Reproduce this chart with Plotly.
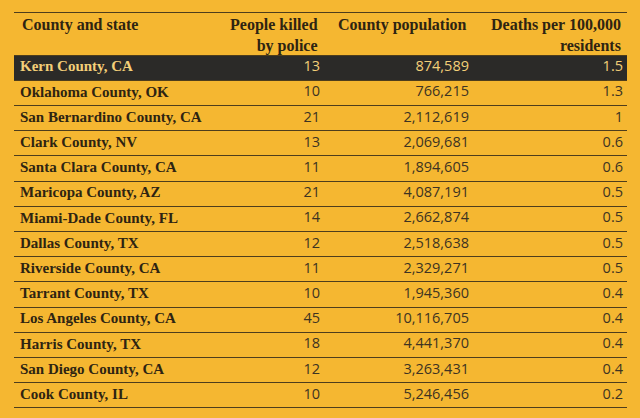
import plotly.graph_objects as go

# ── data ──────────────────────────────────────────────────────────────────────
counties = [
    "Kern County, CA", "Oklahoma County, OK", "San Bernardino County, CA",
    "Clark County, NV", "Santa Clara County, CA", "Maricopa County, AZ",
    "Miami-Dade County, FL", "Dallas County, TX", "Riverside County, CA",
    "Tarrant County, TX", "Los Angeles County, CA", "Harris County, TX",
    "San Diego County, CA", "Cook County, IL",
]
killed = [13, 10, 21, 13, 11, 21, 14, 12, 11, 10, 45, 18, 12, 10]
population = [874589, 766215, 2112619, 2069681, 1894605, 4087191, 2662874,
              2518638, 2329271, 1945360, 10116705, 4441370, 3263431, 5246456]
rate = ["1.5", "1.3", "1", "0.6", "0.6", "0.5", "0.5", "0.5", "0.5",
        "0.4", "0.4", "0.4", "0.4", "0.2"]
headers = ["County and state", "People killed<br>by police",
           "County population", "Deaths per 100,000<br>residents"]
highlight = "Kern County, CA"

# ── style / layout ────────────────────────────────────────────────────────────
# the page body keeps its default 8px margin, so the figure is drawn
# 8px smaller and everything below is measured from that offset
OFF = 8
W, H = 640 - OFF, 418 - OFF
YELLOW = "#f5b731"
DARK = "#2b2a28"
INK = "#2e2412"
NUM = "#3d3322"
CREAM = "#f4cf78"
RULE = "#4e3d1c"

# pixel geometry of the table (window pixels)
left_px, right_px = 14 - OFF, 627 - OFF
top_px, head_h, row_h = 12 - OFF, 43, 25.2
# column text anchors (x in window px): name left edge, numbers right edges
col_x = [20, 320, 469, 623]
col_anchor = ["left", "right", "right", "right"]

n = len(counties)
rows = list(range(n))
y_top = -0.5 - (top_px + head_h) / row_h          # y value at figure top
y_bot = y_top + H / row_h                         # y value at figure bottom
head_top = -0.5 - head_h / row_h

is_hi = [c == highlight for c in counties]
name_col = [CREAM if h else INK for h in is_hi]
num_col = [CREAM if h else NUM for h in is_hi]

fig = go.Figure()

# highlighted row band
for i, h in enumerate(is_hi):
    if h:
        fig.add_shape(type="rect", xref="paper", yref="y", x0=0, x1=1,
                      y0=i - 0.5, y1=i + 0.5, fillcolor=DARK,
                      line=dict(width=0), layer="below")

columns = [
    ([f"<b>{c}</b>" for c in counties], "Liberation Serif", 15, name_col),
    ([str(k) for k in killed], "Open Sans", 14.5, num_col),
    ([f"{p:,}" for p in population], "Open Sans", 14.5, num_col),
    (rate, "Open Sans", 14.5, num_col),
]
for (vals, fam, size, colors), x, anc in zip(columns, col_x, col_anchor):
    fig.add_trace(go.Scatter(
        x=[x] * n, y=rows, text=vals, mode="text",
        textposition="middle right" if anc == "left" else "middle left",
        textfont=dict(family=fam, size=size, color=colors),
        hoverinfo="skip", showlegend=False,
    ))

for text, x, anc in zip(headers, col_x, col_anchor):
    fig.add_annotation(
        x=x, y=head_top, xref="x", yref="y", text=f"<b>{text}</b>",
        xanchor=anc, yanchor="top", align=anc, showarrow=False, yshift=-2,
        font=dict(family="Liberation Serif", size=16, color=INK),
    )

rules = [head_top] + [i - 0.5 for i in range(n + 1)]
fig.update_layout(
    width=W, height=H,
    paper_bgcolor=YELLOW, plot_bgcolor=YELLOW,
    margin=dict(l=left_px, r=W - right_px, t=0, b=0),
    xaxis=dict(range=[left_px + OFF, right_px + OFF], visible=False,
               fixedrange=True),
    yaxis=dict(range=[y_bot, y_top], tickvals=rules, showticklabels=False,
               showgrid=True, gridcolor=RULE, gridwidth=1, zeroline=False,
               showline=False, ticks="", fixedrange=True),
)

# paint the page margin in the same yellow as the chart
fig.write_html("out.html",
               post_script=f"document.body.style.background='{YELLOW}';")
